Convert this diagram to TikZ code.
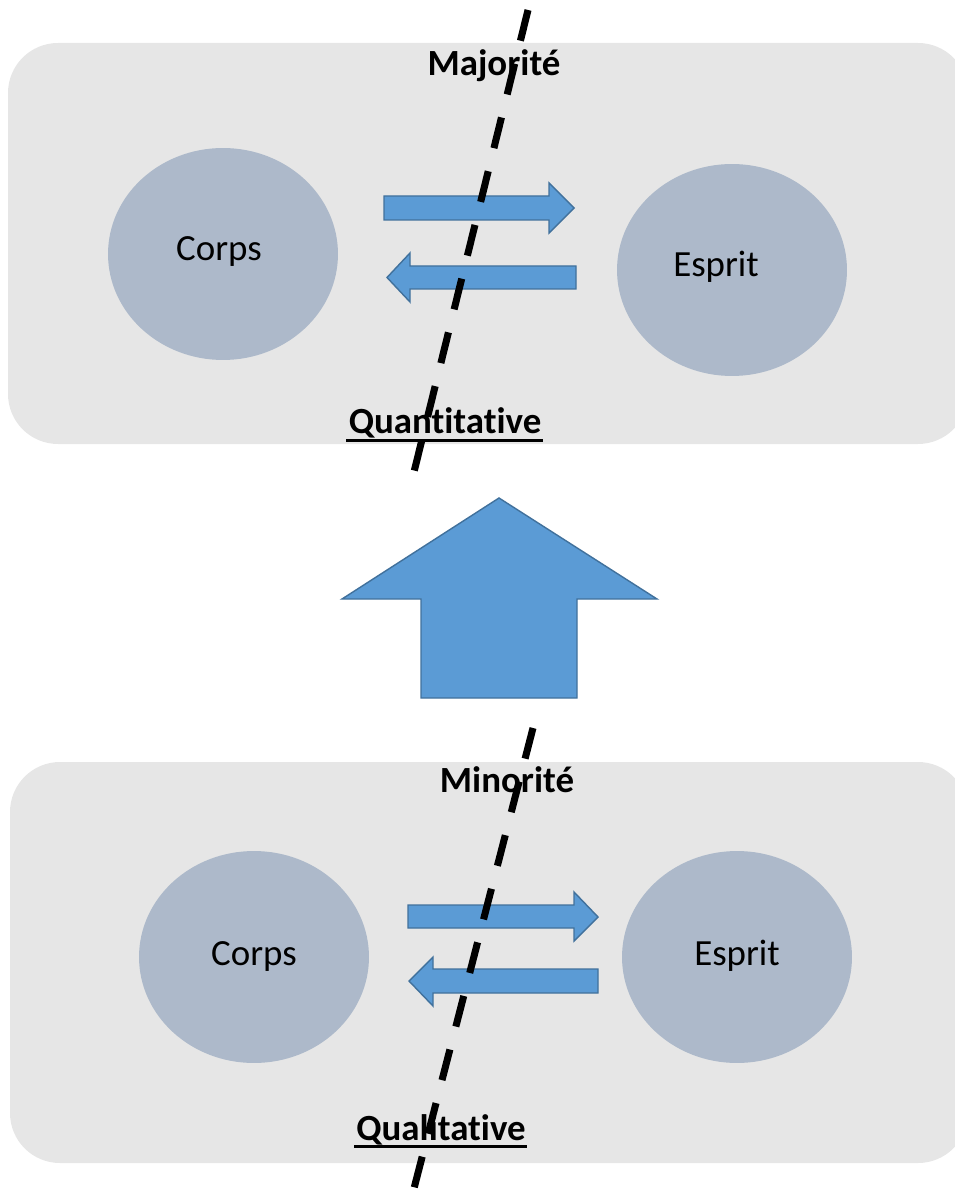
\documentclass[tikz,border=0pt]{standalone}
\usepackage{fontspec}
\setmainfont{Carlito}[Ligatures=NoCommon]
\usetikzlibrary{shapes.geometric}
\definecolor{panelgray}{RGB}{230,230,230}
\definecolor{blobblue}{RGB}{173,185,202}
\definecolor{arrowfill}{RGB}{91,155,213}
\definecolor{arrowline}{RGB}{65,113,156}
\begin{document}
\begin{tikzpicture}[x=0.02cm, y=-0.02cm,
    panel/.style={fill=panelgray, draw=none, rounded corners=1cm},
    blob/.style={ellipse, fill=blobblue, draw=none, minimum width=4.6cm, minimum height=4.24cm},
    blockarrow/.style={fill=arrowfill, draw=arrowline, line width=0.8pt, line join=miter},
    word/.style={font=\fontsize{21}{25}\selectfont, anchor=base, inner sep=0pt},
    heading/.style={word, font=\fontsize{21}{25}\selectfont\bfseries},
    ulbar/.style={line width=1.7pt},
    cutline/.style={line width=4pt, dash pattern=on 18pt off 13.5pt}]
    \useasboundingbox (0,0) rectangle (955,1195);
    \clip (0,0) rectangle (955,1195);

    % the two panels
    \draw[panel] (8,43) rectangle (968,444);
    \draw[panel] (10,762) rectangle (968,1163);

    % top panel
    \node[blob] (corpsA) at (223,254) {};
    \node[blob] (espritA) at (732,270) {};
    \node[word] (corpsAtxt) at (219,261) {Corps};
    \node[word] (espritAtxt) at (716,277) {Esprit};
    \node[heading] (major) at (494,76) {Majorité};
    \node[heading] (quanti) at (445,434) {Quantitative};
    \draw[ulbar] ([xshift=-0.04cm, yshift=-0.13cm]quanti.base west)
        -- ([xshift=0.02cm, yshift=-0.13cm]quanti.base east);

    \draw[blockarrow] (384,196) -- (549,196) -- (549,183) -- (574,208)
        -- (549,233) -- (549,220) -- (384,220) -- cycle;
    \draw[blockarrow] (576,266) -- (410,266) -- (410,253) -- (387,277.5)
        -- (410,302) -- (410,289) -- (576,289) -- cycle;

    % up arrow between the panels
    \draw[blockarrow] (421,698) -- (421,599) -- (342,599) -- (499,498)
        -- (657,599) -- (577,599) -- (577,698) -- cycle;

    % bottom panel
    \node[blob] (corpsB) at (254,957) {};
    \node[blob] (espritB) at (737,957) {};
    \node[word] (corpsBtxt) at (254,965) {Corps};
    \node[word] (espritBtxt) at (737,965) {Esprit};
    \node[heading] (minor) at (507,792) {Minorité};
    \node[heading] (quali) at (441,1140) {Qualitative};
    \draw[ulbar] ([xshift=-0.04cm, yshift=-0.13cm]quali.base west)
        -- ([xshift=0.02cm, yshift=-0.13cm]quali.base east);

    \draw[blockarrow] (408,905) -- (574,905) -- (574,892) -- (598,917)
        -- (574,941) -- (574,928) -- (408,928) -- cycle;
    \draw[blockarrow] (598,969) -- (433,969) -- (433,957) -- (409,981)
        -- (433,1006) -- (433,993) -- (598,993) -- cycle;

    % dashed cuts
    \coordinate (cutAtop) at (528,10);
    \coordinate (cutAbot) at (413,476);
    \coordinate (cutBtop) at (533,728);
    \coordinate (cutBbot) at (411,1200);
    \draw[cutline] (cutAtop) -- (cutAbot);
    \draw[cutline] (cutBtop) -- (cutBbot);
\end{tikzpicture}
\end{document}
